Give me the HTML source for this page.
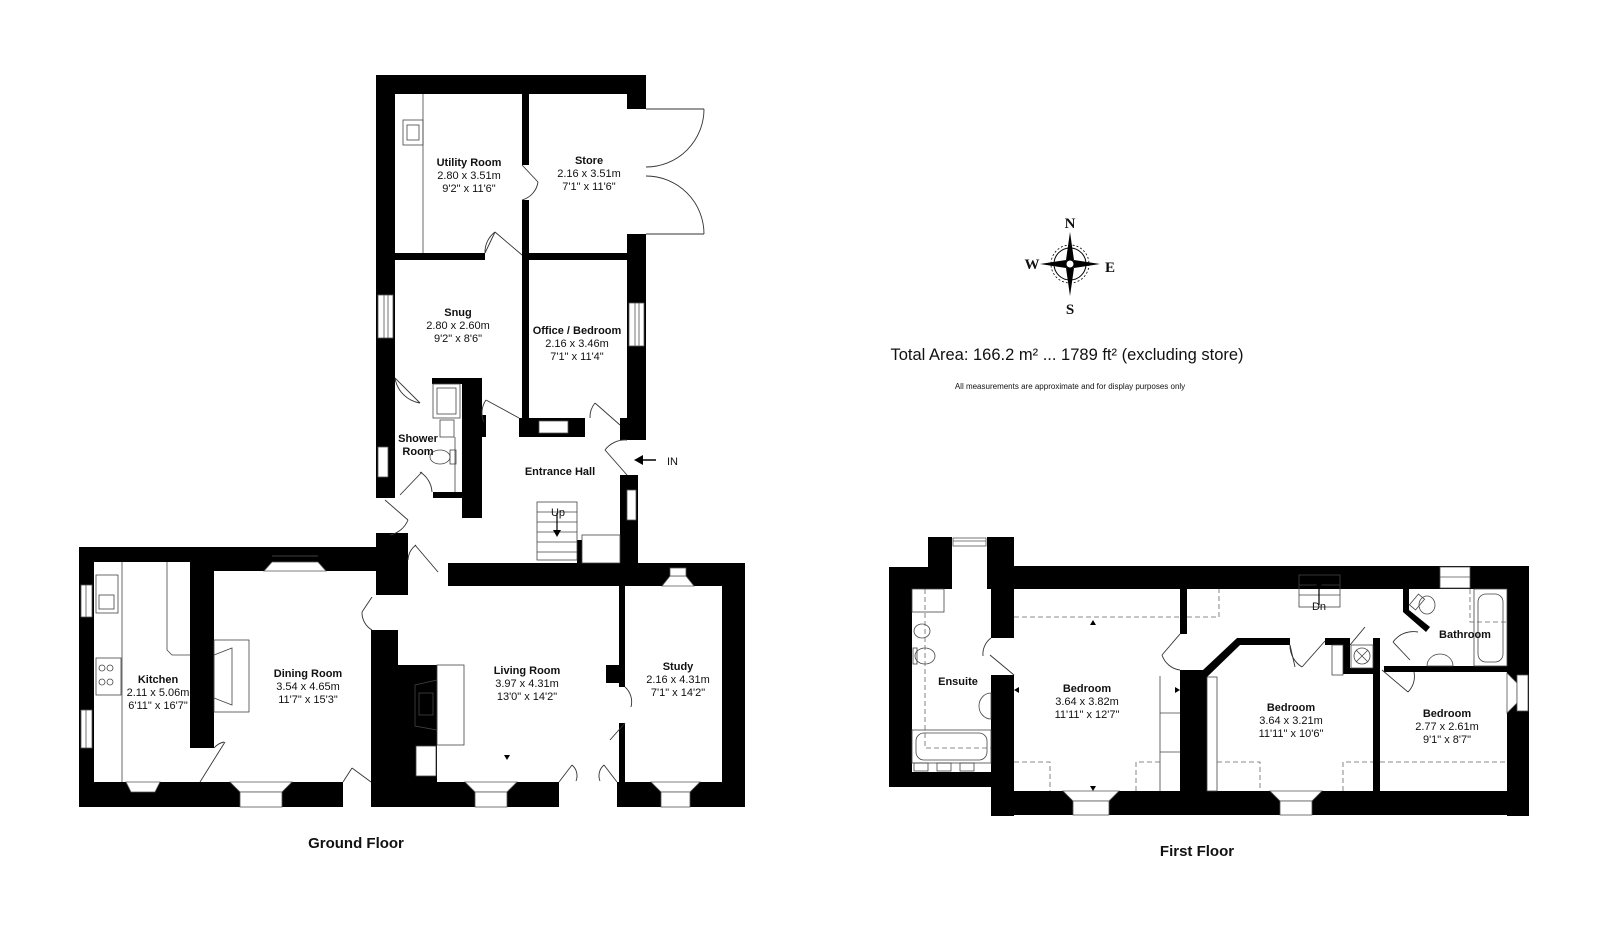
<!DOCTYPE html>
<html><head><meta charset="utf-8"><style>
html,body{margin:0;padding:0;background:#fff;}
svg{display:block;}
text{font-family:"Liberation Sans",Arial,sans-serif;fill:#111;}
.b{font-weight:bold;font-size:11px;}
.d{font-size:11px;}
.t{font-weight:bold;font-size:15px;}
</style></head><body>
<svg width="1600" height="946" viewBox="0 0 1600 946" xmlns="http://www.w3.org/2000/svg">
<rect width="1600" height="946" fill="#fff"/>
<g fill="#000">
<rect x="376" y="75" width="270" height="19"/>
<rect x="627" y="94" width="19" height="15"/>
<rect x="376" y="75" width="19" height="423"/>
<rect x="627" y="234" width="19" height="206"/>
<rect x="522" y="94" width="7" height="71"/>
<rect x="522" y="200" width="7" height="218"/>
<rect x="395" y="253" width="90" height="7"/>
<rect x="522" y="253" width="105" height="7"/>
<rect x="519" y="418" width="66" height="19"/>
<rect x="620" y="418" width="26" height="22"/>
<rect x="432" y="378" width="50" height="6"/>
<rect x="462" y="378" width="20" height="140"/>
<rect x="482" y="415" width="4" height="22"/>
<rect x="433" y="492" width="29" height="6"/>
<rect x="620" y="475" width="18" height="88"/>
<rect x="577" y="540" width="5" height="23"/>
<rect x="79" y="547" width="297" height="15"/>
<rect x="214" y="562" width="162" height="9"/>
<rect x="376" y="533" width="32" height="62"/>
<rect x="79" y="547" width="15" height="260"/>
<rect x="190" y="562" width="24" height="186"/>
<rect x="79" y="782" width="264" height="25"/>
<rect x="371" y="782" width="188" height="25"/>
<rect x="617" y="782" width="128" height="25"/>
<rect x="371" y="630" width="27" height="177"/>
<rect x="398" y="665" width="39" height="117"/>
<rect x="448" y="563" width="297" height="23"/>
<rect x="722" y="563" width="23" height="244"/>
<rect x="619" y="586" width="6" height="101"/>
<rect x="619" y="723" width="6" height="59"/>
<rect x="606" y="665" width="13" height="18"/>
<rect x="928" y="537" width="24" height="52"/>
<rect x="987" y="537" width="27" height="52"/>
<rect x="889" y="567" width="63" height="22"/>
<rect x="889" y="567" width="23" height="220"/>
<rect x="889" y="772" width="102" height="15"/>
<rect x="991" y="537" width="23" height="101"/>
<rect x="991" y="675" width="23" height="141"/>
<rect x="1014" y="566" width="515" height="23"/>
<rect x="1507" y="566" width="22" height="250"/>
<rect x="991" y="791" width="538" height="24"/>
<rect x="1180" y="589" width="7" height="45"/>
<rect x="1180" y="670" width="27" height="121"/>
<polygon points="1180,670 1203,670 1237,638 1290,638 1290,645 1240,645 1207,677 1180,677"/>
<rect x="1325" y="638" width="25" height="7"/>
<rect x="1343" y="638" width="7" height="36"/>
<rect x="1343" y="668" width="37" height="6"/>
<rect x="1373" y="638" width="7" height="153"/>
<rect x="1384" y="666" width="123" height="6"/>
<polygon points="1403,589 1409,589 1409,610 1430,627 1426,632 1403,612"/>
</g>
<g fill="#fff" stroke="#555" stroke-width="0.8">
<rect x="378" y="295" width="15" height="43"/><line x1="384" y1="295" x2="384" y2="338"/><line x1="388" y1="295" x2="388" y2="338"/>
<rect x="378" y="447" width="10" height="30"/>
<rect x="629" y="303" width="15" height="43"/><line x1="635" y1="303" x2="635" y2="346"/><line x1="639" y1="303" x2="639" y2="346"/>
<rect x="539" y="421" width="29" height="12"/>
<rect x="627" y="490" width="9" height="30"/>
<rect x="81" y="585" width="11" height="32"/><line x1="86" y1="585" x2="86" y2="617"/>
<rect x="81" y="710" width="11" height="38"/><line x1="86" y1="710" x2="86" y2="748"/>
<polygon points="264,571 326,571 318,562 272,562"/><line x1="272" y1="556" x2="318" y2="556"/>
<polygon points="126,782 160,782 155,792 131,792"/>
<polygon points="230,782 292,782 282,792 240,792"/><rect x="240" y="792" width="42" height="15"/>
<polygon points="465,782 517,782 507,792 475,792"/><rect x="475" y="792" width="32" height="15"/>
<polygon points="651,782 700,782 690,792 661,792"/><rect x="661" y="792" width="29" height="15"/>
<polygon points="662,586 694,586 686,576 670,576"/><rect x="670" y="568" width="16" height="8"/>
<rect x="953" y="538" width="33" height="8"/><line x1="953" y1="541" x2="986" y2="541"/>
<polygon points="1063,791 1119,791 1109,801 1073,801"/><rect x="1073" y="801" width="36" height="14"/>
<polygon points="1270,791 1322,791 1312,801 1280,801"/><rect x="1280" y="801" width="32" height="14"/>
<rect x="1440" y="567" width="30" height="21"/><line x1="1440" y1="577" x2="1470" y2="577"/>
<polygon points="1507,673 1507,713 1517,703 1517,683"/><rect x="1517" y="675" width="11" height="36"/>
</g>
<g fill="none" stroke="#444" stroke-width="0.8">
<line x1="423" y1="94" x2="423" y2="253"/>
<rect x="403" y="120" width="20" height="25"/><rect x="407" y="125" width="12" height="15"/>
<rect x="433" y="384" width="27" height="34"/><rect x="437" y="388" width="19" height="26"/>
<rect x="440" y="420" width="14" height="17"/>
<ellipse cx="440" cy="457" rx="10" ry="7"/><rect x="450" y="450" width="6" height="14"/>
<line x1="455" y1="437" x2="455" y2="492"/>
<rect x="537" y="502" width="40" height="58"/>
<line x1="537" y1="512" x2="577" y2="512"/><line x1="537" y1="522" x2="577" y2="522"/><line x1="537" y1="532" x2="577" y2="532"/><line x1="537" y1="542" x2="577" y2="542"/><line x1="537" y1="552" x2="577" y2="552"/>
<rect x="582" y="535" width="38" height="28"/>
<line x1="122" y1="562" x2="122" y2="782"/>
<polyline points="167,562 167,650 172,655 190,655"/>
<rect x="96" y="575" width="22" height="38"/><rect x="99" y="595" width="15" height="14"/>
<rect x="96" y="658" width="25" height="37"/><circle cx="102" cy="668" r="3"/><circle cx="110" cy="668" r="3"/><circle cx="102" cy="682" r="3"/><circle cx="110" cy="682" r="3"/>
<rect x="214" y="640" width="35" height="72" fill="#fff"/><polygon points="214,655 232,648 232,705 214,698"/>
<rect x="437" y="665" width="27" height="80"/><polygon points="415,685 437,680 437,730 415,726"/><rect x="419" y="693" width="14" height="22"/>
<rect x="416" y="746" width="20" height="30" fill="#fff"/>
<rect x="1299" y="575" width="41" height="32"/><line x1="1299" y1="585" x2="1340" y2="585"/><line x1="1299" y1="595" x2="1340" y2="595"/>
<rect x="1474" y="589" width="33" height="77"/><rect x="1478" y="594" width="25" height="68" rx="8"/>
<rect x="1351" y="645" width="22" height="23"/><circle cx="1362" cy="656" r="8"/><line x1="1356" y1="650" x2="1368" y2="662"/><line x1="1368" y1="650" x2="1356" y2="662"/>
<rect x="1332" y="645" width="11" height="30"/>
<ellipse cx="1427" cy="605" rx="8" ry="9"/><rect x="1413" y="595" width="8" height="14" transform="rotate(40 1417 602)"/>
<path d="M1427,666 a13,12 0 0 1 26,0 z"/>
<line x1="1160" y1="676" x2="1160" y2="791"/><line x1="1160" y1="713" x2="1180" y2="713"/><line x1="1160" y1="752" x2="1180" y2="752"/>
<rect x="1207" y="677" width="10" height="114"/>
<rect x="912" y="730" width="79" height="33"/><rect x="916" y="733" width="71" height="27" rx="8"/>
<rect x="914" y="763" width="14" height="8"/><rect x="937" y="763" width="14" height="8"/><rect x="960" y="763" width="14" height="8"/>
<ellipse cx="922" cy="631" rx="8" ry="7"/><ellipse cx="925" cy="656" rx="10" ry="8"/><rect x="913" y="648" width="4" height="16"/>
<path d="M991,693 a12,13 0 0 0 0,26 z"/>
<rect x="912" y="589" width="32" height="23"/>
</g>
<g fill="none" stroke="#666" stroke-width="0.8" stroke-dasharray="5,3">
<polyline points="925,589 925,748 991,748"/>
<line x1="1014" y1="617" x2="1180" y2="617"/>
<polyline points="1187,617 1219,617 1219,589"/>
<polyline points="1014,762 1050,762 1050,791"/><polyline points="1136,791 1136,762 1160,762"/>
<polyline points="1217,762 1260,762 1260,791"/><polyline points="1343,791 1343,762 1373,762"/>
<line x1="1380" y1="762" x2="1507" y2="762"/>
<polyline points="1470,589 1470,622 1507,622"/>
</g>
<g fill="none" stroke="#333" stroke-width="0.9">
<line x1="522" y1="165" x2="538" y2="182"/><path d="M538,182 a22,22 0 0 1 -16,18"/>
<line x1="485" y1="253" x2="495" y2="232"/><line x1="495" y1="232" x2="522" y2="255"/><path d="M485,253 a25,25 0 0 1 10,-21"/>
<line x1="646" y1="109" x2="704" y2="109"/><path d="M704,109 A58,58 0 0 1 646,167"/>
<line x1="646" y1="234" x2="704" y2="234"/><path d="M704,234 A58,58 0 0 0 646,176"/>
<line x1="395" y1="378" x2="420" y2="403"/><path d="M420,403 a30,30 0 0 1 -25,-25"/>
<line x1="486" y1="400" x2="519" y2="418"/><path d="M486,400 a22,22 0 0 0 -2,22"/>
<line x1="595" y1="403" x2="620" y2="425"/><path d="M595,403 a22,22 0 0 0 -5,15"/>
<line x1="605" y1="450" x2="627" y2="475"/><path d="M605,450 a25,25 0 0 1 22,-10"/>
<line x1="422" y1="472" x2="400" y2="495"/><path d="M432,492 a25,25 0 0 0 -12,-20"/>
<line x1="385" y1="500" x2="408" y2="520"/><path d="M408,520 a25,25 0 0 1 -18,15"/>
<line x1="415" y1="545" x2="438" y2="572"/><path d="M408,560 a20,20 0 0 1 8,-15"/>
<line x1="372" y1="597" x2="362" y2="612"/><path d="M362,612 a20,20 0 0 0 10,18"/>
<line x1="225" y1="742" x2="200" y2="782"/><path d="M214,748 a18,18 0 0 1 10,-6"/>
<line x1="343" y1="782" x2="352" y2="768"/><line x1="352" y1="768" x2="371" y2="782"/>
<line x1="559" y1="782" x2="572" y2="765"/><line x1="617" y1="782" x2="604" y2="765"/><path d="M572,765 a14,14 0 0 1 4,16"/><path d="M604,765 a14,14 0 0 0 -4,16"/>
<line x1="625" y1="723" x2="610" y2="740"/><path d="M625,687 a20,20 0 0 1 6,20"/>
<line x1="1014" y1="675" x2="990" y2="655"/><path d="M991,638 a20,20 0 0 0 -8,18"/>
<line x1="1180" y1="634" x2="1162" y2="655"/><path d="M1162,655 a22,22 0 0 0 18,15"/>
<line x1="1290" y1="645" x2="1295" y2="667"/><line x1="1325" y1="641" x2="1302" y2="667"/><path d="M1290,645 a25,25 0 0 0 12,22"/>
<line x1="1350" y1="645" x2="1365" y2="627"/>
<line x1="1393" y1="642" x2="1410" y2="660"/><path d="M1393,642 a25,25 0 0 1 25,-10"/>
<line x1="1382" y1="670" x2="1408" y2="692"/><path d="M1408,692 a22,22 0 0 0 6,-20"/>
</g>
<g fill="#000">
<polygon points="507,579 504,584 510,584"/>
<polygon points="507,760 504,755 510,755"/>
<polygon points="1093,620 1090,625 1096,625"/>
<polygon points="1093,791 1090,786 1096,786"/>
<polygon points="1014,690 1019,687 1019,693"/>
<polygon points="1180,690 1175,687 1175,693"/>
<line x1="557" y1="513" x2="557" y2="532" stroke="#000" stroke-width="1.2"/><polygon points="557,537 553,530 561,530"/>
<line x1="1319" y1="605" x2="1319" y2="586" stroke="#000" stroke-width="1.2"/><polygon points="1319,580 1315,588 1323,588"/>
<line x1="642" y1="460" x2="656" y2="460" stroke="#000" stroke-width="1.5"/><polygon points="634,460 643,455 643,465"/>
</g>
<g transform="translate(1070,264)">
<circle r="16" fill="none" stroke="#000" stroke-width="1"/>
<circle r="19" fill="none" stroke="#000" stroke-width="0.8" stroke-dasharray="2,2"/>
<polygon points="0,-32 4,-4 0,0 -4,-4" fill="#000"/>
<polygon points="0,32 4,4 0,0 -4,4" fill="#000"/>
<polygon points="-30,0 -4,-4 0,0 -4,4" fill="#000"/>
<polygon points="30,0 4,-4 0,0 4,4" fill="#000"/>
<circle r="4" fill="#fff" stroke="#000"/>
<text x="0" y="-36" text-anchor="middle" style="font-family:'Liberation Serif',serif;font-weight:bold;font-size:15px">N</text>
<text x="0" y="50" text-anchor="middle" style="font-family:'Liberation Serif',serif;font-weight:bold;font-size:15px">S</text>
<text x="-38" y="5" text-anchor="middle" style="font-family:'Liberation Serif',serif;font-weight:bold;font-size:15px">W</text>
<text x="40" y="8" text-anchor="middle" style="font-family:'Liberation Serif',serif;font-weight:bold;font-size:15px">E</text>
</g>
<g text-anchor="middle">
<text x="469" y="166" class="b">Utility Room</text><text x="469" y="179" class="d">2.80 x 3.51m</text><text x="469" y="192" class="d">9'2" x 11'6"</text>
<text x="589" y="164" class="b">Store</text><text x="589" y="177" class="d">2.16 x 3.51m</text><text x="589" y="190" class="d">7'1" x 11'6"</text>
<text x="458" y="316" class="b">Snug</text><text x="458" y="329" class="d">2.80 x 2.60m</text><text x="458" y="342" class="d">9'2" x 8'6"</text>
<text x="577" y="334" class="b">Office / Bedroom</text><text x="577" y="347" class="d">2.16 x 3.46m</text><text x="577" y="360" class="d">7'1" x 11'4"</text>
<text x="418" y="442" class="b">Shower</text><text x="418" y="455" class="b">Room</text>
<text x="560" y="475" class="b">Entrance Hall</text>
<text x="558" y="516" class="d">Up</text>
<text x="667" y="465" class="d" text-anchor="start">IN</text>
<text x="158" y="683" class="b">Kitchen</text><text x="158" y="696" class="d">2.11 x 5.06m</text><text x="158" y="709" class="d">6'11" x 16'7"</text>
<text x="308" y="677" class="b">Dining Room</text><text x="308" y="690" class="d">3.54 x 4.65m</text><text x="308" y="703" class="d">11'7" x 15'3"</text>
<text x="527" y="674" class="b">Living Room</text><text x="527" y="687" class="d">3.97 x 4.31m</text><text x="527" y="700" class="d">13'0" x 14'2"</text>
<text x="678" y="670" class="b">Study</text><text x="678" y="683" class="d">2.16 x 4.31m</text><text x="678" y="696" class="d">7'1" x 14'2"</text>
<text x="356" y="848" class="t">Ground Floor</text>
<text x="1087" y="692" class="b">Bedroom</text><text x="1087" y="705" class="d">3.64 x 3.82m</text><text x="1087" y="718" class="d">11'11" x 12'7"</text>
<text x="1291" y="711" class="b">Bedroom</text><text x="1291" y="724" class="d">3.64 x 3.21m</text><text x="1291" y="737" class="d">11'11" x 10'6"</text>
<text x="1447" y="717" class="b">Bedroom</text><text x="1447" y="730" class="d">2.77 x 2.61m</text><text x="1447" y="743" class="d">9'1" x 8'7"</text>
<text x="958" y="685" class="b">Ensuite</text>
<text x="1465" y="638" class="b">Bathroom</text>
<text x="1319" y="610" class="d">Dn</text>
<text x="1197" y="856" class="t">First Floor</text>
<text x="1067" y="360" style="font-size:16.5px">Total Area: 166.2 m² ... 1789 ft² (excluding store)</text>
<text x="1070" y="389" style="font-size:8px">All measurements are approximate and for display purposes only</text>
</g>
</svg>
</body></html>
